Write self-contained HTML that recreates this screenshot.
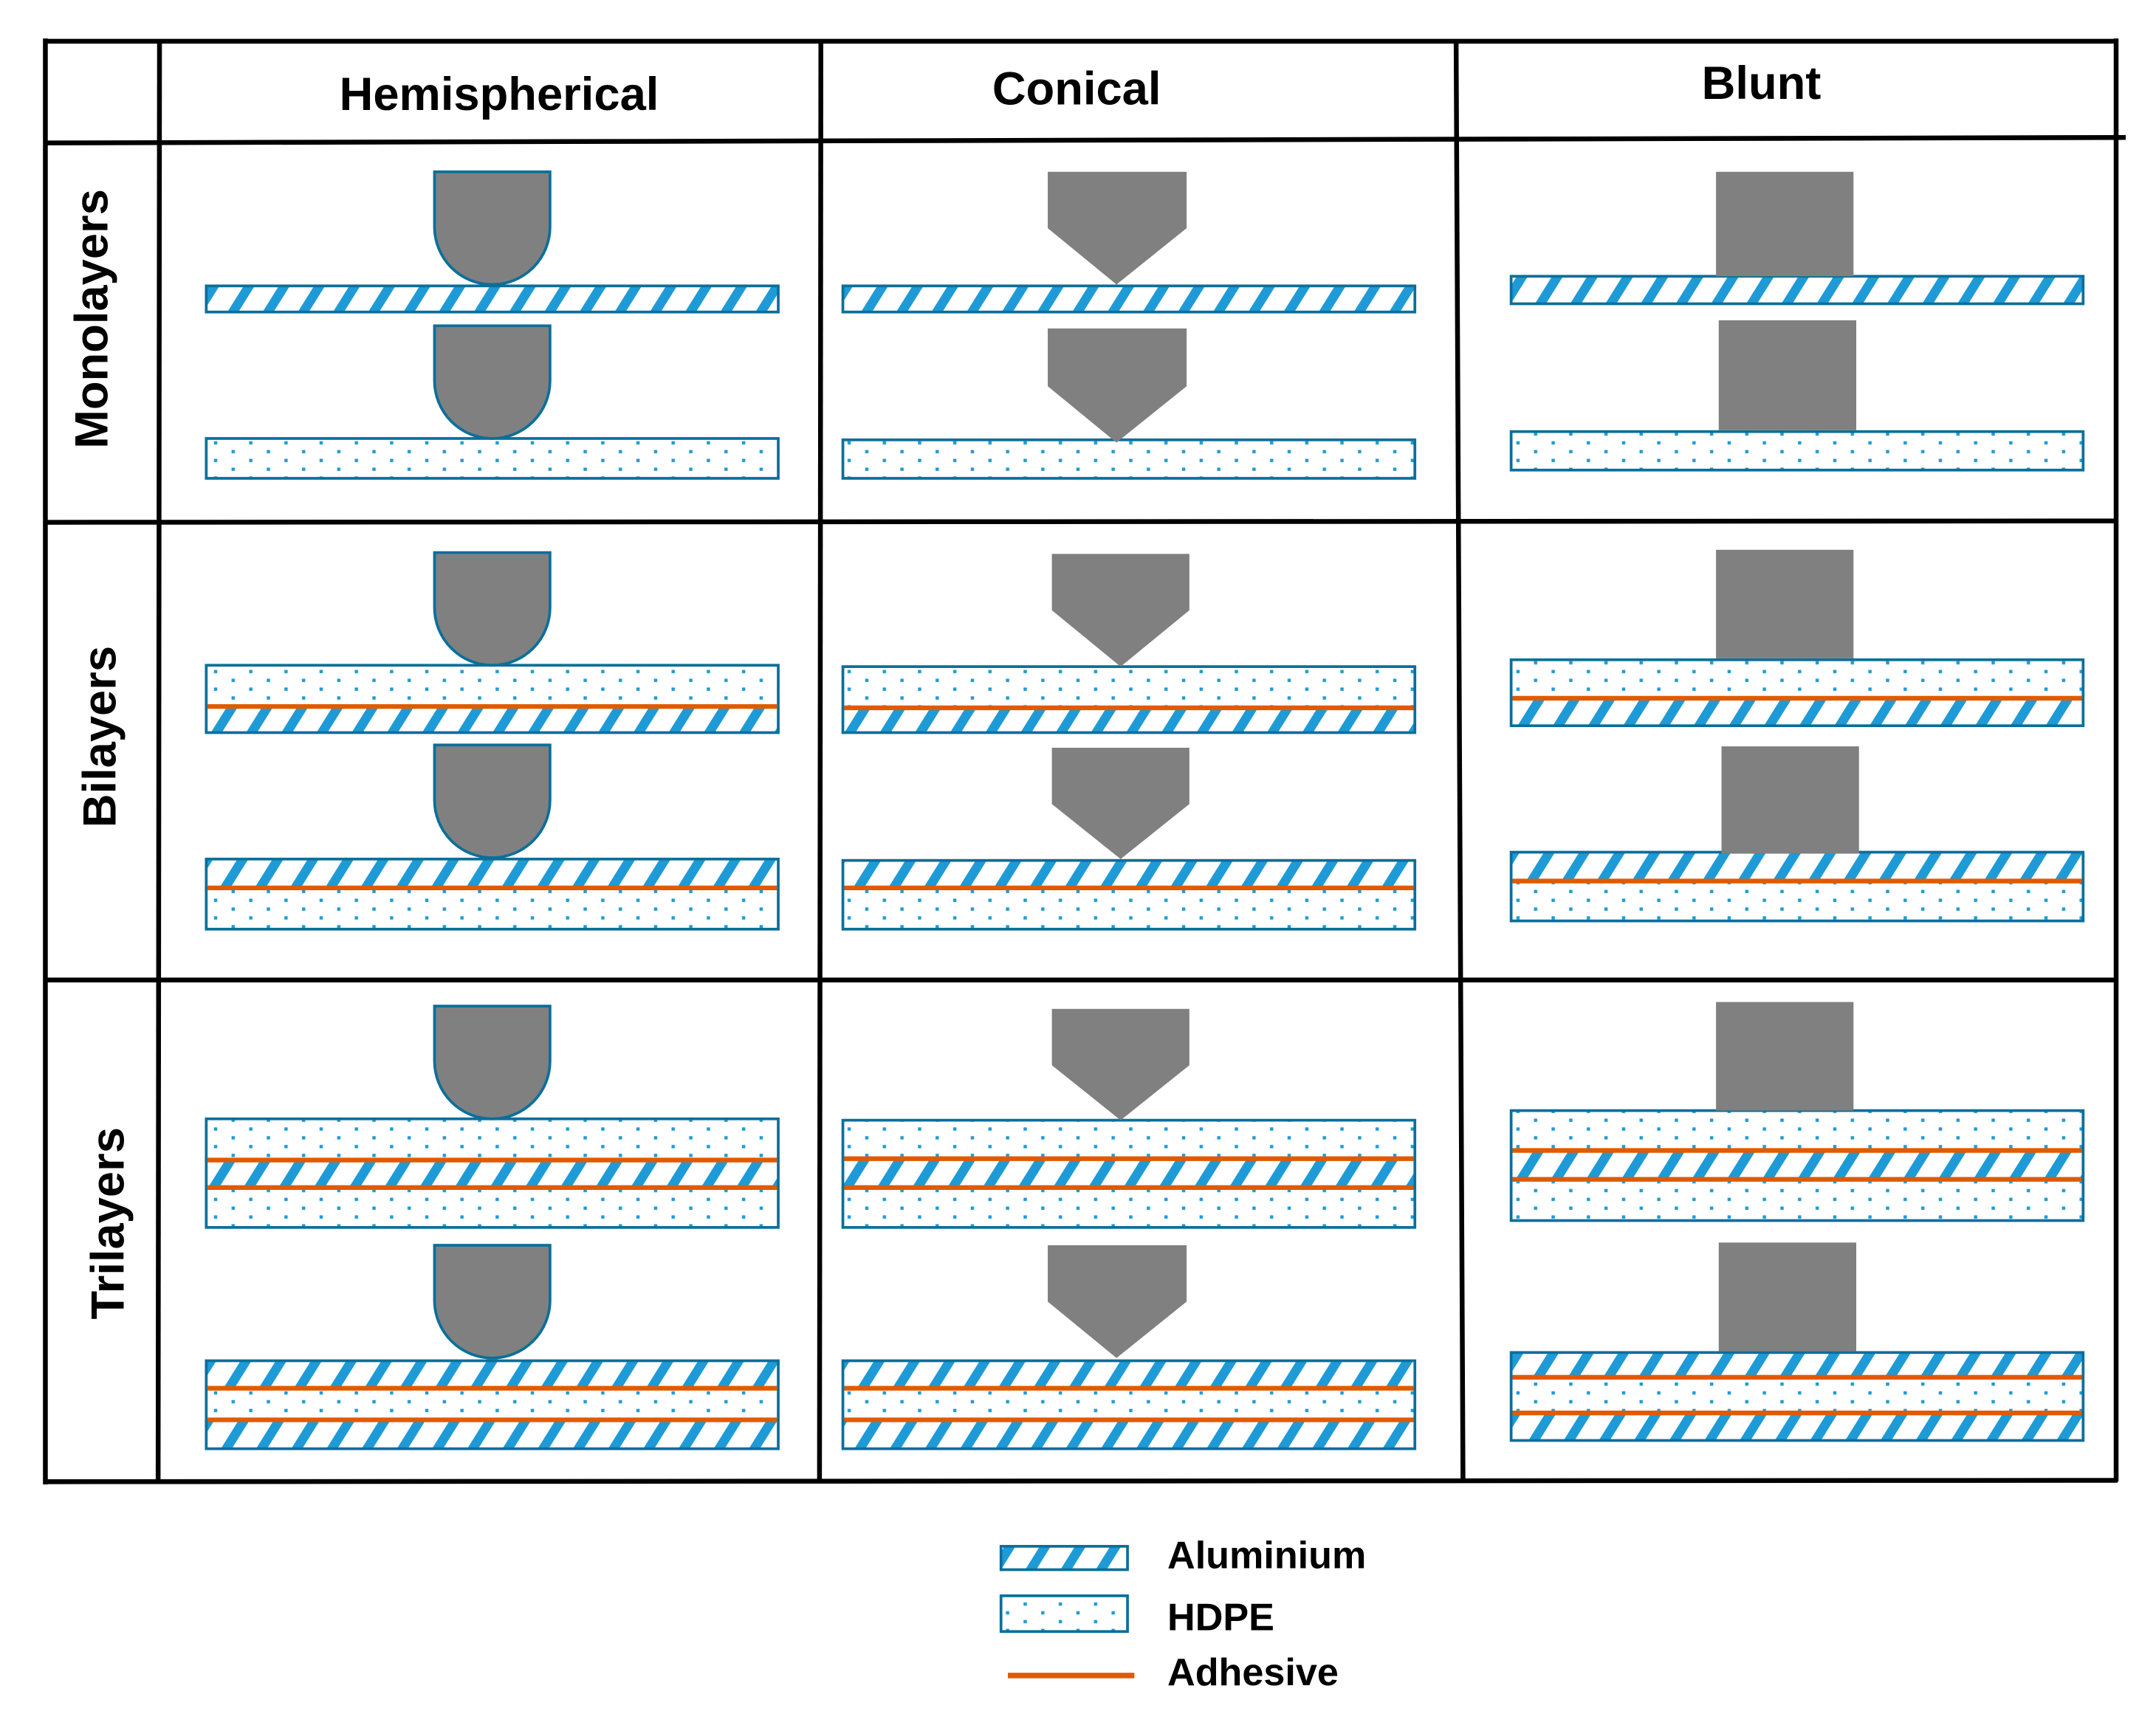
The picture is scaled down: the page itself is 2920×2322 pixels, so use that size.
<!DOCTYPE html>
<html><head><meta charset="utf-8"><style>
html,body{margin:0;padding:0;background:#fff;}
svg{display:block;}
text{font-family:"Liberation Sans",sans-serif;font-weight:bold;fill:#000;}
</style></head><body>
<svg width="2920" height="2322" viewBox="0 0 1568 1247" preserveAspectRatio="none" xmlns="http://www.w3.org/2000/svg">
<defs>
<pattern id="al" patternUnits="userSpaceOnUse" width="25.6" height="10" patternTransform="skewX(-32)">
<rect x="0" y="0" width="8" height="10" fill="#1e9bd7"/>
</pattern>
<pattern id="hd" patternUnits="userSpaceOnUse" width="25.6" height="12.8" x="0" y="0">
<rect x="2" y="1" width="2.4" height="2.4" fill="#1e9bd7"/>
<rect x="14.8" y="7.4" width="2.4" height="2.4" fill="#1e9bd7"/>
</pattern>
</defs>
<rect width="1568" height="1247" fill="#fff"/>

<g stroke="#000" stroke-width="3.5" fill="none">
<line x1="32" y1="30" x2="1540" y2="30"/>
<line x1="32" y1="104" x2="1546" y2="100"/>
<line x1="32" y1="380" x2="1540" y2="379"/>
<line x1="32" y1="713" x2="1540" y2="713"/>
<line x1="32" y1="1078" x2="1540" y2="1077"/>
<line x1="33" y1="28" x2="33" y2="1080"/>
<line x1="116" y1="30" x2="115" y2="1078"/>
<line x1="597" y1="30" x2="596" y2="1078"/>
<line x1="1059" y1="30" x2="1064" y2="1078"/>
<line x1="1539" y1="28" x2="1539" y2="1078"/>
</g>

<text x="363" y="80" font-size="34" text-anchor="middle">Hemispherical</text>
<text x="783" y="76" font-size="34" text-anchor="middle">Conical</text>
<text x="1281" y="72" font-size="34" text-anchor="middle">Blunt</text>
<text transform="translate(78,232) rotate(-90)" font-size="34" text-anchor="middle">Monolayers</text>
<text transform="translate(84,536) rotate(-90)" font-size="34" text-anchor="middle">Bilayers</text>
<text transform="translate(90,890) rotate(-90)" font-size="34" text-anchor="middle">Trilayers</text>

<g stroke="#0a6f9a" stroke-width="2">
<rect x="150" y="208" width="416" height="19" fill="url(#al)"/>
<rect x="150" y="319" width="416" height="29" fill="url(#hd)"/>
<rect x="613" y="208" width="416" height="19" fill="url(#al)"/>
<rect x="613" y="320" width="416" height="28" fill="url(#hd)"/>
<rect x="1099" y="201" width="416" height="20" fill="url(#al)"/>
<rect x="1099" y="314" width="416" height="28" fill="url(#hd)"/>
</g>

<g stroke="none">
<rect x="150" y="484" width="416" height="30" fill="url(#hd)"/><rect x="150" y="514" width="416" height="19" fill="url(#al)"/>
<rect x="150" y="625" width="416" height="21" fill="url(#al)"/><rect x="150" y="646" width="416" height="30" fill="url(#hd)"/>
<rect x="613" y="485" width="416" height="30" fill="url(#hd)"/><rect x="613" y="515" width="416" height="18" fill="url(#al)"/>
<rect x="613" y="626" width="416" height="20" fill="url(#al)"/><rect x="613" y="646" width="416" height="30" fill="url(#hd)"/>
<rect x="1099" y="480" width="416" height="28" fill="url(#hd)"/><rect x="1099" y="508" width="416" height="20" fill="url(#al)"/>
<rect x="1099" y="620" width="416" height="21" fill="url(#al)"/><rect x="1099" y="641" width="416" height="29" fill="url(#hd)"/>
<rect x="150" y="814" width="416" height="30" fill="url(#hd)"/><rect x="150" y="844" width="416" height="20" fill="url(#al)"/><rect x="150" y="864" width="416" height="29" fill="url(#hd)"/>
<rect x="150" y="990" width="416" height="20" fill="url(#al)"/><rect x="150" y="1010" width="416" height="23" fill="url(#hd)"/><rect x="150" y="1033" width="416" height="21" fill="url(#al)"/>
<rect x="613" y="815" width="416" height="28" fill="url(#hd)"/><rect x="613" y="843" width="416" height="21" fill="url(#al)"/><rect x="613" y="864" width="416" height="29" fill="url(#hd)"/>
<rect x="613" y="990" width="416" height="20" fill="url(#al)"/><rect x="613" y="1010" width="416" height="23" fill="url(#hd)"/><rect x="613" y="1033" width="416" height="21" fill="url(#al)"/>
<rect x="1099" y="808" width="416" height="29" fill="url(#hd)"/><rect x="1099" y="837" width="416" height="21" fill="url(#al)"/><rect x="1099" y="858" width="416" height="30" fill="url(#hd)"/>
<rect x="1099" y="984" width="416" height="18" fill="url(#al)"/><rect x="1099" y="1002" width="416" height="26" fill="url(#hd)"/><rect x="1099" y="1028" width="416" height="20" fill="url(#al)"/>
</g>

<g stroke="#e05a00" stroke-width="3.4">
<line x1="151" y1="514" x2="565" y2="514"/><line x1="151" y1="646" x2="565" y2="646"/>
<line x1="614" y1="515" x2="1028" y2="515"/><line x1="614" y1="646" x2="1028" y2="646"/>
<line x1="1100" y1="508" x2="1514" y2="508"/><line x1="1100" y1="641" x2="1514" y2="641"/>
<line x1="151" y1="844" x2="565" y2="844"/><line x1="151" y1="864" x2="565" y2="864"/>
<line x1="151" y1="1010" x2="565" y2="1010"/><line x1="151" y1="1033" x2="565" y2="1033"/>
<line x1="614" y1="843" x2="1028" y2="843"/><line x1="614" y1="864" x2="1028" y2="864"/>
<line x1="614" y1="1010" x2="1028" y2="1010"/><line x1="614" y1="1033" x2="1028" y2="1033"/>
<line x1="1100" y1="837" x2="1514" y2="837"/><line x1="1100" y1="858" x2="1514" y2="858"/>
<line x1="1100" y1="1002" x2="1514" y2="1002"/><line x1="1100" y1="1028" x2="1514" y2="1028"/>
</g>

<g stroke="#0a6f9a" stroke-width="2" fill="none">
<rect x="150" y="484" width="416" height="49"/><rect x="150" y="625" width="416" height="51"/>
<rect x="613" y="485" width="416" height="48"/><rect x="613" y="626" width="416" height="50"/>
<rect x="1099" y="480" width="416" height="48"/><rect x="1099" y="620" width="416" height="50"/>
<rect x="150" y="814" width="416" height="79"/><rect x="150" y="990" width="416" height="64"/>
<rect x="613" y="815" width="416" height="78"/><rect x="613" y="990" width="416" height="64"/>
<rect x="1099" y="808" width="416" height="80"/><rect x="1099" y="984" width="416" height="64"/>
</g>

<g fill="#808080" stroke="#0a6f9a" stroke-width="2">
<path d="M316,125 H400 V165 A42,42 0 0 1 316,165 Z"/>
<path d="M316,237 H400 V277 A42,42 0 0 1 316,277 Z"/>
<path d="M316,402 H400 V442 A42,42 0 0 1 316,442 Z"/>
<path d="M316,542 H400 V582 A42,42 0 0 1 316,582 Z"/>
<path d="M316,732 H400 V772 A42,42 0 0 1 316,772 Z"/>
<path d="M316,906 H400 V946 A42,42 0 0 1 316,946 Z"/>
</g>

<g fill="#808080">
<polygon points="762,125 863,125 863,166 812,207 762,166"/>
<polygon points="762,239 863,239 863,281 812,322 762,281"/>
<polygon points="765,403 865,403 865,444 815,485 765,444"/>
<polygon points="765,544 865,544 865,585 815,625 765,585"/>
<polygon points="765,734 865,734 865,775 815,815 765,775"/>
<polygon points="762,906 863,906 863,947 812,988 762,947"/>
<rect x="1248" y="125" width="100" height="76"/>
<rect x="1250" y="233" width="100" height="80"/>
<rect x="1248" y="400" width="100" height="79"/>
<rect x="1252" y="543" width="100" height="78"/>
<rect x="1248" y="729" width="100" height="79"/>
<rect x="1250" y="904" width="100" height="79"/>
</g>

<rect x="728" y="1125" width="92" height="17" fill="url(#al)" stroke="#0a6f9a" stroke-width="2"/>
<rect x="728" y="1161" width="92" height="26" fill="url(#hd)" stroke="#0a6f9a" stroke-width="2"/>
<line x1="733" y1="1219" x2="825" y2="1219" stroke="#e05a00" stroke-width="4"/>
<text x="849" y="1141" font-size="28">Aluminium</text>
<text x="849" y="1186" font-size="28">HDPE</text>
<text x="849" y="1226" font-size="28">Adhesive</text>
</svg>
</body></html>
